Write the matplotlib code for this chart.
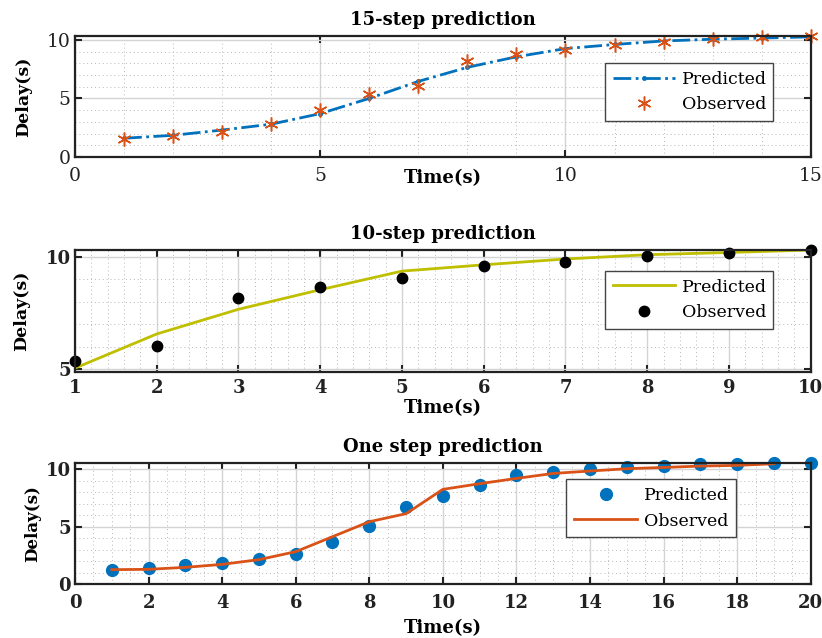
import numpy as np
import matplotlib
matplotlib.use("Agg")
import matplotlib.pyplot as plt
import matplotlib.transforms as mtrans
from matplotlib.ticker import MultipleLocator

plt.rcParams['font.family'] = ['DejaVu Serif']

# ---- data ----
t15 = list(range(1, 16))
pred15 = [1.6, 1.85, 2.3, 2.8, 3.7, 5.0, 6.45, 7.65, 8.55, 9.25, 9.6, 9.9, 10.05, 10.15, 10.25]
obs15 = [1.55, 1.8, 2.15, 2.85, 4.05, 5.4, 6.05, 8.2, 8.75, 9.1, 9.55, 9.85, 10.05, 10.2, 10.3]

t10 = list(range(1, 11))
pred10 = [5.04, 6.56, 7.66, 8.53, 9.36, 9.64, 9.9, 10.09, 10.19, 10.3]
obs10 = [5.34, 6.02, 8.16, 8.63, 9.07, 9.57, 9.78, 10.03, 10.18, 10.3]

t1_pred = list(range(1, 21))
pred1 = [1.24, 1.45, 1.68, 1.82, 2.2, 2.66, 3.7, 5.09, 6.73, 7.69, 8.61, 9.48, 9.71, 9.97,
         10.17, 10.3, 10.4, 10.46, 10.5, 10.5]
t1_obs = list(range(1, 20))
obs1 = [1.27, 1.3, 1.47, 1.73, 2.14, 2.83, 4.13, 5.43, 6.13, 8.24, 8.73, 9.19, 9.62, 9.83,
        10.03, 10.14, 10.26, 10.32, 10.46]

titles = ["15-step prediction", "10-step prediction", "One step prediction"]
xlab = "Time(s)"
ylab = "Delay(s)"
leg_labels = ["Predicted", "Observed"]

BLUE = "#0072BD"
ORANGE = "#D95319"
YEL = "#BFBF00"

W, H = 822, 638
fig = plt.figure(figsize=(W / 100, H / 100), dpi=100)

def frac(left, top, right, bottom):
    return [left / W, 1 - bottom / H, (right - left) / W, (bottom - top) / H]

ax1 = fig.add_axes(frac(75, 35.7, 810.7, 157))
ax2 = fig.add_axes(frac(75, 250, 810.7, 371.7))
ax3 = fig.add_axes(frac(75, 463.3, 810.7, 584.3))

def style(ax, xmin, xmax, xmaj, xmin_step, ymin, ymax, yticks, ymin_step, bold_ticks, xpad, lsize):
    ax.set_xlim(xmin, xmax)
    ax.set_ylim(ymin, ymax)
    ax.xaxis.set_major_locator(MultipleLocator(xmaj))
    ax.xaxis.set_minor_locator(MultipleLocator(xmin_step))
    ax.set_yticks(yticks)
    ax.yaxis.set_minor_locator(MultipleLocator(ymin_step))
    ax.grid(True, which='major', color='#d4d4d4', lw=1.0, ls='-')
    ax.grid(True, which='minor', color='#b8b8b8', lw=0.7, ls=(0, (1, 3)))
    ax.set_axisbelow(True)
    ax.tick_params(which='major', direction='in', top=True, right=True, length=5, width=1.5,
                   labelsize=lsize, colors='#222222')
    ax.tick_params(axis='x', which='major', pad=xpad)
    ax.tick_params(axis='y', which='major', pad=3)
    ax.tick_params(which='minor', length=0)
    for s in ax.spines.values():
        s.set_linewidth(1.6)
        s.set_color('#222222')
    if bold_ticks:
        for lab in ax.get_xticklabels() + ax.get_yticklabels():
            lab.set_fontweight('bold')
    # keep the last x tick label inside the figure
    fig.canvas.draw()
    last = ax.get_xticklabels()[-1]
    last.set_transform(last.get_transform() +
                       mtrans.ScaledTranslation(-4 / 100, 0, fig.dpi_scale_trans))

# panel 1
ax1.plot(t15, pred15, color=BLUE, ls='-.', lw=2, marker='.', ms=5, label=leg_labels[0])
ax1.plot(t15, obs15, ls='none', marker=(6, 2, 0), ms=10, mew=1.1, color=ORANGE,
         label=leg_labels[1], clip_on=False)
style(ax1, 0, 15, 5, 1, 0, 10.35, [0, 5, 10], 1, False, 7, 13.5)
ax1.set_title(titles[0], fontsize=13, fontweight='bold', pad=8)
ax1.set_xlabel(xlab, fontsize=13, fontweight='bold', labelpad=-11)
ax1.set_ylabel(ylab, fontsize=12.5, fontweight='bold', labelpad=11)

# panel 2
ax2.plot(t10, pred10, color=YEL, lw=2, label=leg_labels[0])
ax2.plot(t10, obs10, ls='none', marker='o', ms=7.5, color='black', label=leg_labels[1], clip_on=False)
style(ax2, 1, 10, 1, 0.2, 4.88, 10.3, [5, 10], 1, True, 5, 13)
ax2.set_title(titles[1], fontsize=13, fontweight='bold', pad=8)
ax2.set_xlabel(xlab, fontsize=13, fontweight='bold', labelpad=2)
ax2.set_ylabel(ylab, fontsize=12.5, fontweight='bold', labelpad=11)

# panel 3
ax3.plot(t1_pred, pred1, ls='none', marker='o', ms=8.5, color=BLUE, label=leg_labels[0], clip_on=False)
ax3.plot(t1_obs, obs1, color=ORANGE, lw=2, label=leg_labels[1])
style(ax3, 0, 20, 2, 0.5, 0, 10.5, [0, 5, 10], 1, True, 7, 13)
ax3.set_title(titles[2], fontsize=13, fontweight='bold', pad=8)
ax3.set_xlabel(xlab, fontsize=13, fontweight='bold', labelpad=5)
ax3.set_ylabel(ylab, fontsize=12, fontweight='bold', labelpad=3)

def leg(ax, x0, x1, ytop):
    l = ax.legend(loc='upper left', bbox_to_anchor=(x0, ytop, x1 - x0, 0.0), mode='expand',
                  borderaxespad=0, fontsize=12.5, frameon=True, fancybox=False,
                  handlelength=3.6, labelspacing=0.5, borderpad=0.45, handletextpad=0.4)
    fr = l.get_frame()
    fr.set_edgecolor('#444444')
    fr.set_linewidth(1.0)
    fr.set_alpha(1)
    return l

leg(ax1, 0.720, 0.949, 0.775)
leg(ax2, 0.720, 0.949, 0.83)
leg(ax3, 0.668, 0.898, 0.87)

fig.savefig("out.png", dpi=100)
